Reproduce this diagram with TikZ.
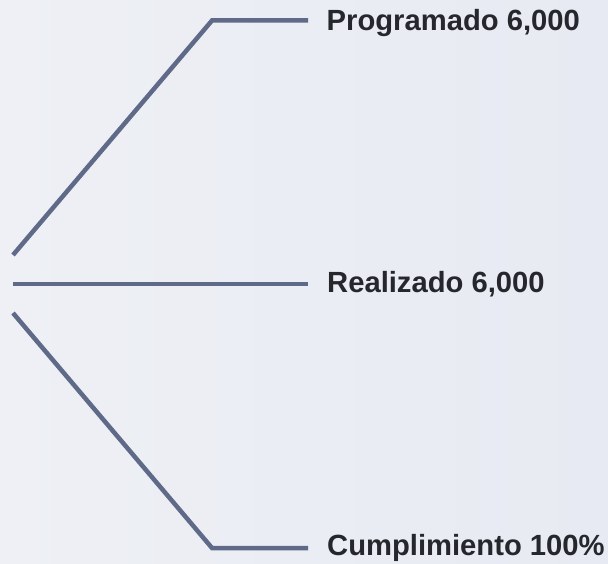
\documentclass[tikz,border=0pt]{standalone}
\usepackage{fontspec}
\setmainfont{Liberation Sans}
\definecolor{bgA}{HTML}{EEF0F5}
\definecolor{bgB}{HTML}{E7EAF2}
\definecolor{linec}{HTML}{5F6A88}
\definecolor{txtc}{HTML}{25272D}
\tikzset{
  conn/.style={draw=linec, line width=4.5pt},
  lbl/.style={anchor=base west, inner sep=0pt, text=txtc, font=\bfseries\fontsize{29.2}{32}\selectfont}
}
\begin{document}
\begin{tikzpicture}[x=1pt,y=-1pt]
\useasboundingbox (0,0) rectangle (608,564);
\shade[left color=bgA, right color=bgB] (0,0) rectangle (608,564);
% coordinates
\coordinate (t0) at (13,255);
\coordinate (t1) at (212,20.5);
\coordinate (t2) at (308,20.5);
\coordinate (m0) at (13,284);
\coordinate (m2) at (308,284);
\coordinate (b0) at (13,313);
\coordinate (b1) at (212,548);
\coordinate (b2) at (308,548);
\draw[conn] (t0) -- (t1) -- (t2);
\draw[conn] (m0) -- (m2);
\draw[conn] (b0) -- (b1) -- (b2);
\node[lbl] (p) at (326.5,31) {Programado 6,000};
\node[lbl] (r) at (327,293) {Realizado 6,000};
\node[lbl] (c) at (327,555) {Cumplimiento 100\%};
\end{tikzpicture}
\end{document}
